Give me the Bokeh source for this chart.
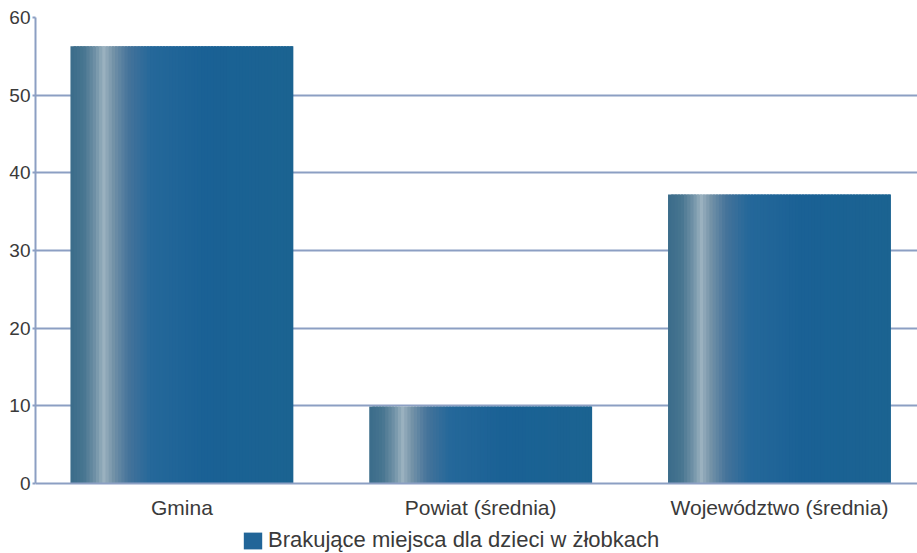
from bokeh.plotting import figure
from bokeh.models import FixedTicker, Range1d, Legend, LegendItem, ColumnDataSource
from bokeh.embed import file_html
from bokeh.resources import INLINE

# ---- data ----
categories = ["Gmina", "Powiat (średnia)", "Województwo (średnia)"]
values = [56.3, 9.9, 37.2]
y_ticks = [0, 10, 20, 30, 40, 50, 60]
series_name = "Brakujące miejsca dla dzieci w żłobkach"

# ---- style / layout ----
FONT = "Liberation Sans"
TEXT = "#3a3a3a"
GRID = "#8c9fc3"
BAR_W = 0.746
N_SLICES = 70
W, H = 917, 553
TOP_PX, ZERO_PX = 17, 483          # pixel rows of y=60 and y=0
Y_MAX = y_ticks[-1]
px_per_unit = (ZERO_PX - TOP_PX) / Y_MAX
y_bottom = -(H - ZERO_PX) / px_per_unit   # frame extends to page bottom (legend room)

stops = [
    (0.00, "#3b6c8a"), (0.06, "#477590"), (0.11, "#6f91a6"), (0.15, "#9ab1bf"),
    (0.19, "#7593a8"), (0.26, "#45739a"), (0.36, "#25689a"), (0.60, "#1a6195"),
    (1.00, "#1b6391"),
]


def hex2rgb(h):
    h = h.lstrip("#")
    return tuple(int(h[i:i + 2], 16) for i in (0, 2, 4))


def color_at(t):
    for (t0, c0), (t1, c1) in zip(stops[:-1], stops[1:]):
        if t0 <= t <= t1:
            f = (t - t0) / (t1 - t0) if t1 > t0 else 0
            a, b = hex2rgb(c0), hex2rgb(c1)
            return "#%02x%02x%02x" % tuple(round(a[i] + (b[i] - a[i]) * f) for i in range(3))
    return stops[-1][1]


xs = list(range(len(categories)))

p = figure(width=W, height=H, output_backend="svg", toolbar_location=None,
           x_range=Range1d(-0.49, 2.462), y_range=Range1d(y_bottom, Y_MAX),
           min_border_left=35, min_border_right=0, min_border_top=TOP_PX, min_border_bottom=0)
p.outline_line_color = None
p.background_fill_color = "white"
p.border_fill_color = "white"

# gradient bars built from slices (each renderer = one slice of all bars)
slice_w = BAR_W / N_SLICES
renderers = []
for k in range(N_SLICES):
    t = (k + 0.5) / N_SLICES
    w = slice_w * (1.0 if k == N_SLICES - 1 else 1.8)
    src = ColumnDataSource(dict(
        x=[x - BAR_W / 2 + k * slice_w + w / 2 for x in xs],
        top=values,
    ))
    r = p.vbar(x="x", top="top", bottom=0, width=w, source=src,
               fill_color=color_at(t), line_color=None)
    renderers.append(r)

# axes
p.xaxis.fixed_location = 0
p.xaxis.ticker = FixedTicker(ticks=xs)
p.xaxis.major_label_overrides = {x: c for x, c in zip(xs, categories)}
p.xaxis.major_tick_line_color = None
p.xaxis.minor_tick_line_color = None
p.xaxis.axis_line_color = GRID
p.xaxis.axis_line_width = 2
p.xaxis.major_label_text_font = FONT
p.xaxis.major_label_text_font_size = "21px"
p.xaxis.major_label_text_color = TEXT
p.xaxis.major_label_standoff = 6

p.yaxis.bounds = (0, Y_MAX)
p.yaxis.ticker = FixedTicker(ticks=y_ticks)
p.yaxis.minor_tick_line_color = None
p.yaxis.major_tick_line_color = GRID
p.yaxis.major_tick_line_width = 2
p.yaxis.major_tick_out = 3
p.yaxis.major_tick_in = 0
p.yaxis.axis_line_color = GRID
p.yaxis.axis_line_width = 2
p.yaxis.major_label_text_font = FONT
p.yaxis.major_label_text_font_size = "19px"
p.yaxis.major_label_text_color = TEXT
p.yaxis.major_label_standoff = 2

p.xgrid.grid_line_color = None
p.ygrid.grid_line_color = GRID
p.ygrid.grid_line_width = 2
p.ygrid.ticker = FixedTicker(ticks=y_ticks[1:])

legend = Legend(items=[LegendItem(label=series_name, renderers=[renderers[int(N_SLICES * 0.45)]])],
                location=(206, 0), orientation="horizontal",
                padding=0, margin=0, spacing=0,
                glyph_width=23, glyph_height=21, label_standoff=4,
                label_text_font=FONT, label_text_font_size="22px",
                label_text_color=TEXT, border_line_color=None,
                background_fill_alpha=0)
p.add_layout(legend, "center")

open("out.html", "w").write(file_html(p, INLINE))
